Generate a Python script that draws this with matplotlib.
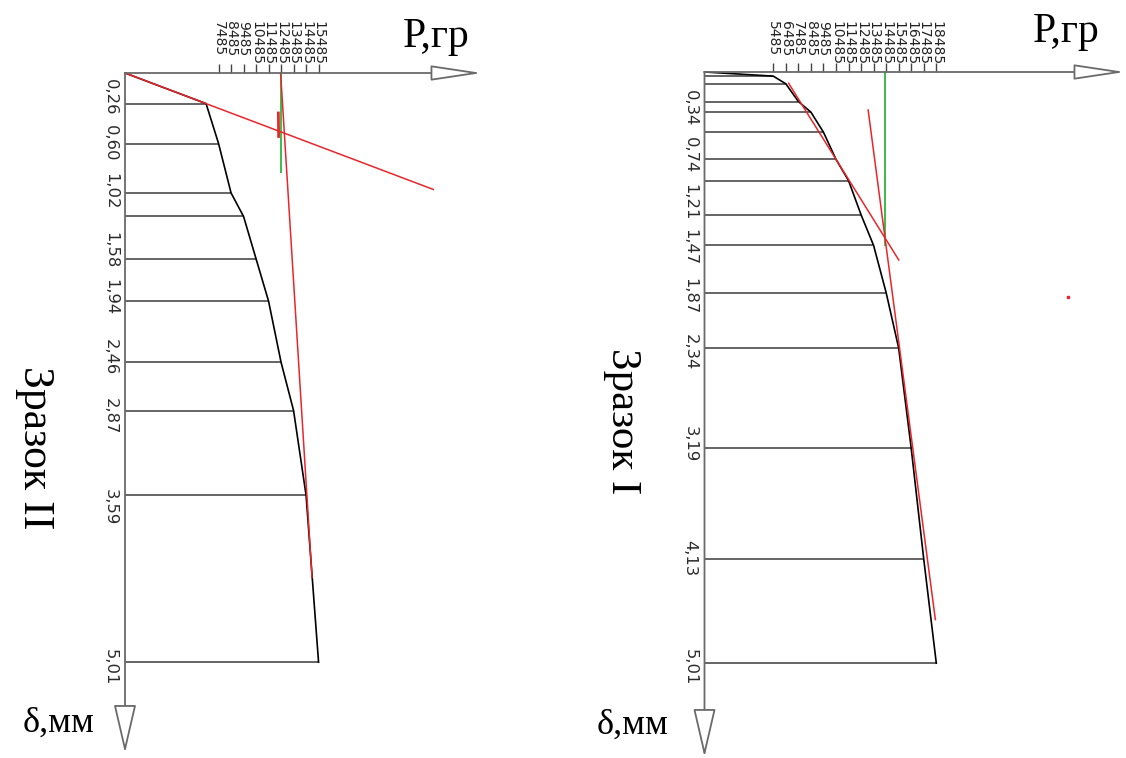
import matplotlib
matplotlib.use('Agg')
import matplotlib.pyplot as plt

# ---- Зразок II (left panel) ----
load_II = [0, 6485, 7485, 8485, 9485, 10485, 11485, 12485, 13485, 14485, 15485]
defl_II = [0, 0.26, 0.60, 1.02, 1.22, 1.58, 1.94, 2.46, 2.87, 3.59, 5.01]
labels_II = ['', '0,26', '0,60', '1,02', '', '1,58', '1,94', '2,46', '2,87', '3,59', '5,01']
nudge_II = [0, -6, 0, -2, 0, -9, -4, -5, 6, 12, 5]   # label shift, px
ticks_II = [7485, 8485, 9485, 10485, 11485, 12485, 13485, 14485, 15485]
# tangent / construction lines (P, delta)
tanA_II = ([0, 24660], [0, 0.99])
tanB_II = ([12448, 14960], [0, 4.29])
mark_II = ([12270, 12290], [0.34, 0.54])
green_II = ([12485, 12485], [0, 0.84])

# ---- Зразок I (right panel) ----
load_I = [0, 5485, 6485, 7485, 8485, 9485, 10485, 11485, 12485, 13485, 14485,
          15485, 16485, 17485, 18485]
defl_I = [0, 0.035, 0.10, 0.25, 0.34, 0.51, 0.74, 0.92, 1.21, 1.47, 1.87,
          2.34, 3.19, 4.13, 5.01]
labels_I = ['', '', '', '', '0,34', '', '0,74', '', '1,21', '1,47', '1,87',
            '2,34', '3,19', '4,13', '5,01']
nudge_I = [0, 0, 0, 0, -4, 0, -4, 0, -13, 2, 3, 4, -4, -1, 4]
ticks_I = [5485, 6485, 7485, 8485, 9485, 10485, 11485, 12485, 13485, 14485,
           15485, 16485, 17485, 18485]
tanA_I = ([6710, 15490], [0.096, 1.593])
tanB_I = ([13050, 18410], [0.322, 4.64])
green_I = ([14400, 14400], [0, 1.47])
dot_I = ([29020], [1.907])

W, H = 1126, 758
tfont, ysz, xsz = 'DejaVu Sans', 11.8, 10
serif = 'Liberation Serif'

fig = plt.figure(figsize=(W / 100, H / 100), dpi=100)
fig.patch.set_facecolor('white')

RED = '#e8262b'
GREEN = '#3dbb4a'
AX = '#6a6a6a'


def panel(px0, px1, ox, oy, sx, sy, loads, defls, labels, nudge, ticks, xtip, ytip):
    ax = fig.add_axes([px0 / W, 0, (px1 - px0) / W, 1])
    ax.set_xlim((px0 - ox) / sx * 1000, (px1 - ox) / sx * 1000)
    ax.set_ylim((H - oy) / sy, -oy / sy)
    ax.axis('off')
    kpx = 1000 / sx   # grams per pixel
    mpx = 1 / sy      # mm per pixel

    # axes with hollow arrow heads
    ax.annotate('', xy=(xtip, 0), xytext=(0, 0),
                arrowprops=dict(arrowstyle='-|>,head_length=3.2,head_width=0.48',
                                mutation_scale=10, fc='white', ec=AX, lw=1.3,
                                shrinkA=0, shrinkB=0))
    ax.annotate('', xy=(0, ytip), xytext=(0, 0),
                arrowprops=dict(arrowstyle='-|>,head_length=3.1,head_width=0.72',
                                mutation_scale=10, fc='white', ec=AX, lw=1.3,
                                shrinkA=0, shrinkB=0))
    # top ticks and labels (top-aligned column of rotated digits)
    ax.vlines(ticks, -9 * mpx, 0, color='#444', lw=1.0)
    for t in ticks:
        ax.text(t, -(oy - 21) * mpx, str(t), rotation=-90, ha='center', va='top',
                fontsize=xsz, family=tfont, color='#222')
    # horizontal lines and curve
    ax.hlines(defls[1:], 0, loads[1:], color='#3a3a3a', lw=1.1)
    ax.plot(loads, defls, color='black', lw=1.2)
    for d, lab, n in zip(defls, labels, nudge):
        if lab:
            ax.text(-7 * kpx, d + n * mpx, lab, rotation=-90, ha='right',
                    va='center', fontsize=ysz, family=tfont, color='#2a2a2a')
    return ax, kpx, mpx


# left panel: Зразок II
ax1, k1, m1 = panel(0, 563, 125, 73, 12.5, 117.6, load_II, defl_II, labels_II,
                    nudge_II, ticks_II, (482 - 125) * 80, (753 - 73) / 117.6)
ax1.plot(*green_II, color=GREEN, lw=1.4)
ax1.plot(*tanA_II, color=RED, lw=1.1)
ax1.plot(*tanB_II, color=RED, lw=1.1)
ax1.plot(*mark_II, color=RED, lw=2.0)
ax1.text(-90 * k1, (448 - 73) * m1, 'Зразок II', rotation=-90, ha='center',
         va='center', fontsize=31.5, family=serif)
ax1.text((403 - 125) * k1, -26 * m1, 'P,гр', ha='left', va='baseline',
         fontsize=30, family=serif)
ax1.text(-30 * k1, (732 - 73) * m1, 'δ,мм', ha='right', va='baseline',
         fontsize=26, family=serif)

# right panel: Зразок I
ax2, k2, m2 = panel(563, 1126, 704.5, 72, 12.54, 118, load_I, defl_I, labels_I,
                    nudge_I, ticks_I, (1125 - 704.5) / 12.54 * 1000, (757 - 72) / 118)
ax2.plot(*green_I, color=GREEN, lw=1.4)
ax2.plot(*tanA_I, color=RED, lw=1.1)
ax2.plot(*tanB_I, color=RED, lw=1.1)
ax2.plot(*dot_I, 's', color=RED, ms=1.5)
ax2.text(-82.5 * k2, (421 - 72) * m2, 'Зразок I', rotation=-90, ha='center',
         va='center', fontsize=31, family=serif)
ax2.text((1033 - 704.5) * k2, -30 * m2, 'P,гр', ha='left', va='baseline',
         fontsize=30, family=serif)
ax2.text(-36.5 * k2, (734 - 72) * m2, 'δ,мм', ha='right', va='baseline',
         fontsize=26, family=serif)

fig.savefig('out.png', dpi=100, facecolor='white')
